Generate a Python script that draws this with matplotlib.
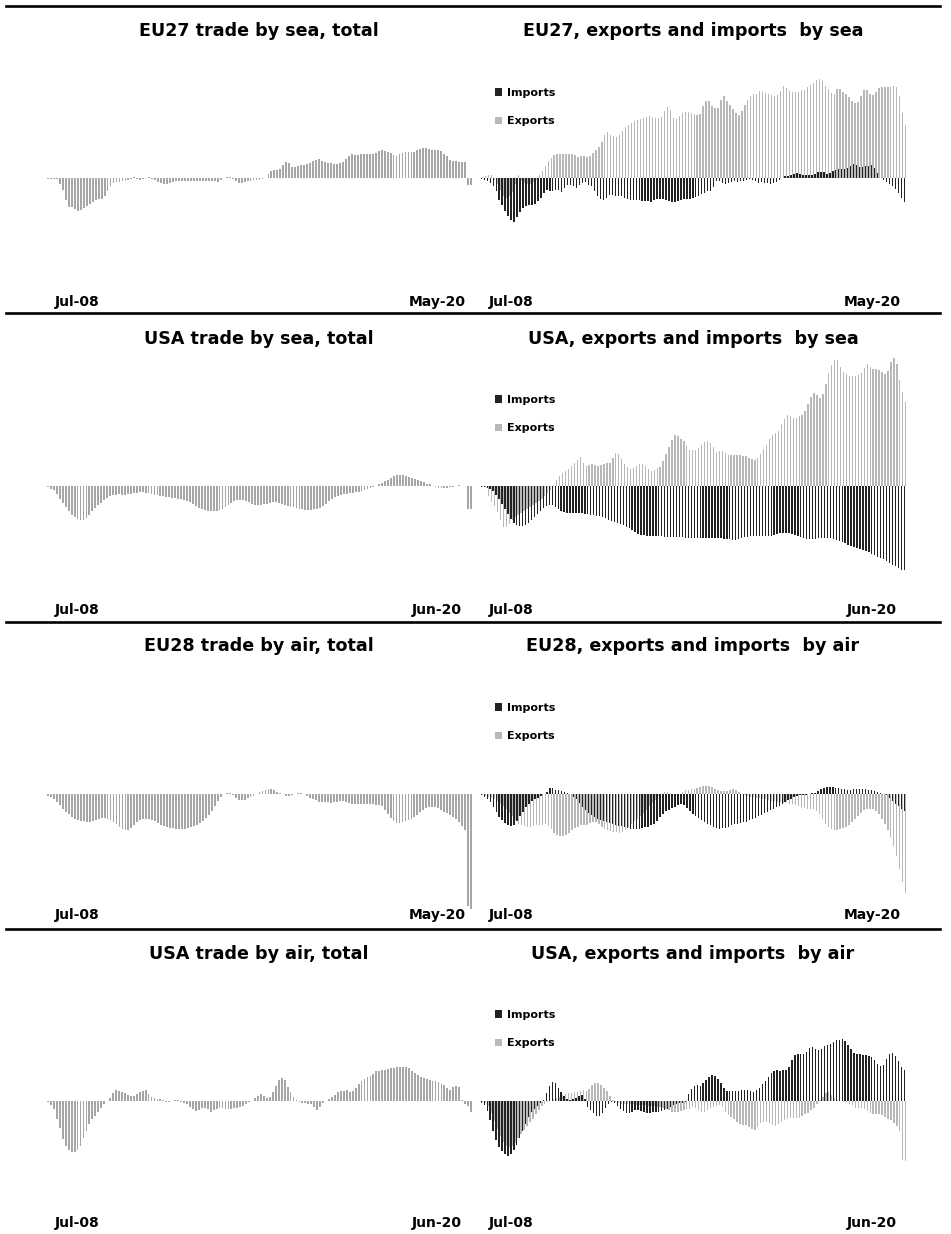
import matplotlib
matplotlib.use("Agg")
import matplotlib.pyplot as plt
from matplotlib.lines import Line2D
import numpy as np
import pandas as pd

# ---------------- categories ----------------
months_may20 = pd.period_range("2008-07", "2020-05", freq="M")   # 143 months
months_jun20 = pd.period_range("2008-07", "2020-06", freq="M")   # 144 months

# ---------------- data (relative change, arbitrary units) ----------------
eu27_sea_total = [
    -0.5, -0.5, -0.5, -1, -6, -12, -22, -29, -29, -31,
    -33, -32, -30, -28, -26, -24, -22, -21, -21, -18,
    -13, -8, -5, -4, -4, -3, -3, -2, -1, 1,
    -1, -2, -1, 0, 1, -1, -2, -4, -5, -6,
    -6, -5, -4, -3, -3, -3, -3, -3, -3, -3,
    -3, -3, -3, -3, -3, -3, -3, -4, -2, 0,
    1, 1, -1, -3, -5, -5, -4, -3, -3, -2,
    -2, -2, -1, 0, 4, 7, 8, 8, 9, 13,
    16, 15, 11, 11, 12, 13, 13, 14, 15, 17,
    18, 19, 17, 16, 15, 15, 14, 14, 15, 16,
    19, 22, 24, 23, 23, 24, 24, 24, 24, 24,
    25, 27, 28, 27, 26, 25, 23, 22, 24, 25,
    26, 26, 26, 26, 28, 29, 30, 30, 29, 28,
    28, 28, 27, 24, 22, 18, 17, 17, 16, 16,
    16, -7, -7]

eu27_sea_exports = [
    1, 2, 3, 3, -2, -6, -12, -18, -20, -18,
    -14, -6, 3, -3, -5, -6, -6, -4, -2, 3,
    7, 12, 17, 20, 23, 24, 24, 24, 24, 24,
    24, 23, 21, 22, 22, 21, 22, 25, 28, 31,
    36, 43, 46, 43, 42, 41, 43, 47, 51, 53,
    55, 57, 58, 59, 60, 61, 62, 61, 60, 60,
    61, 67, 71, 68, 60, 59, 62, 65, 66, 66,
    65, 64, 63, 64, 72, 77, 77, 72, 70, 70,
    78, 82, 77, 73, 69, 65, 63, 67, 73, 78,
    82, 84, 84, 87, 86, 85, 84, 83, 82, 83,
    87, 92, 90, 87, 86, 86, 86, 88, 88, 91,
    93, 95, 98, 99, 97, 92, 89, 85, 84, 89,
    89, 86, 84, 81, 77, 75, 76, 82, 88, 88,
    84, 83, 86, 90, 91, 91, 91, 91, 92, 91,
    82, 65, 53]

eu27_sea_imports = [
    -1, -2, -3, -5, -8, -13, -22, -27, -33, -38,
    -42, -44, -39, -34, -30, -28, -27, -27, -26, -23,
    -20, -15, -12, -13, -13, -12, -12, -14, -10, -7,
    -7, -8, -10, -7, -5, -4, -7, -8, -13, -18,
    -21, -22, -20, -17, -17, -18, -18, -18, -20, -21,
    -22, -22, -22, -22, -23, -23, -23, -24, -22, -21,
    -21, -21, -22, -23, -24, -24, -23, -22, -21, -21,
    -21, -20, -19, -18, -16, -15, -13, -13, -9, -3,
    -3, -5, -6, -5, -4, -3, -4, -3, -3, -2,
    -1, -2, -3, -5, -4, -5, -5, -6, -5, -4,
    -2, 0, 2, 2, 3, 4, 5, 4, 3, 3,
    3, 3, 4, 6, 6, 6, 4, 5, 7, 8,
    9, 9, 9, 10, 12, 14, 13, 11, 11, 12,
    12, 13, 10, 5, 0, -2, -4, -6, -8, -11,
    -15, -20, -24]

usa_sea_total = [
    -1, -3, -4, -8, -13, -17, -21, -25, -29, -31,
    -33, -34, -34, -32, -29, -25, -22, -19, -17, -14,
    -12, -10, -9, -9, -8, -9, -9, -8, -8, -7,
    -7, -6, -6, -7, -7, -8, -9, -9, -10, -10,
    -11, -11, -12, -12, -13, -13, -14, -15, -16, -18,
    -20, -22, -23, -24, -25, -25, -25, -25, -24, -23,
    -21, -19, -17, -15, -14, -14, -14, -15, -16, -18,
    -19, -19, -19, -18, -18, -17, -16, -16, -17, -18,
    -19, -20, -21, -21, -22, -23, -23, -24, -24, -24,
    -23, -23, -22, -20, -18, -15, -13, -11, -10, -9,
    -8, -8, -7, -7, -6, -6, -5, -4, -3, -2,
    -1, 0, 2, 3, 5, 6, 8, 10, 11, 11,
    11, 10, 9, 8, 7, 6, 5, 4, 2, 2,
    0, -1, -2, -2, -2, -2, -1, -0.5, 0.5, 1,
    0.5, 0.5, -23, -23]

usa_sea_exports = [
    -1, -2, -10, -16, -20, -26, -34, -41, -41, -38,
    -34, -31, -29, -27, -25, -23, -21, -19, -17, -15,
    -13, -10, -7, -4, 1, 6, 10, 13, 15, 17,
    20, 23, 26, 29, 23, 20, 21, 22, 21, 20,
    21, 22, 23, 23, 28, 33, 32, 27, 22, 19,
    17, 18, 20, 22, 22, 20, 17, 15, 16, 18,
    19, 25, 32, 39, 46, 51, 50, 47, 45, 40,
    36, 36, 36, 38, 41, 44, 45, 43, 39, 34,
    35, 35, 33, 31, 31, 31, 31, 31, 30, 30,
    28, 27, 26, 28, 32, 37, 41, 47, 51, 53,
    55, 62, 67, 71, 70, 68, 68, 70, 71, 75,
    82, 89, 93, 91, 88, 92, 102, 113, 121, 126,
    126, 119, 114, 112, 110, 110, 110, 111, 113, 118,
    122, 119, 117, 117, 116, 114, 112, 115, 124, 128,
    122, 106, 94, 84]

usa_sea_imports = [
    -1, -1, -2, -3, -5, -9, -13, -18, -23, -28,
    -33, -37, -39, -40, -40, -39, -37, -34, -31, -28,
    -25, -22, -20, -19, -19, -21, -23, -25, -26, -27,
    -27, -27, -27, -27, -27, -28, -28, -29, -29, -30,
    -30, -31, -32, -34, -35, -36, -37, -38, -39, -41,
    -42, -44, -46, -48, -49, -49, -50, -50, -50, -50,
    -50, -50, -51, -51, -51, -51, -51, -51, -51, -52,
    -52, -52, -52, -52, -52, -52, -52, -52, -52, -52,
    -52, -52, -53, -53, -53, -54, -54, -53, -52, -51,
    -51, -50, -50, -50, -50, -50, -50, -50, -50, -49,
    -48, -47, -47, -47, -47, -48, -49, -50, -51, -52,
    -53, -53, -53, -53, -52, -52, -52, -52, -52, -53,
    -54, -55, -56, -57, -59, -60, -61, -62, -63, -64,
    -65, -66, -68, -69, -71, -72, -73, -75, -77, -79,
    -80, -82, -84, -84]

eu28_air_total = [
    -2, -3, -5, -8, -11, -15, -18, -20, -23, -25,
    -26, -27, -27, -28, -28, -27, -26, -25, -24, -24,
    -25, -26, -28, -30, -33, -35, -36, -36, -34, -31,
    -28, -26, -25, -25, -25, -26, -27, -29, -31, -32,
    -33, -34, -34, -35, -35, -35, -35, -34, -33, -32,
    -31, -29, -27, -24, -21, -17, -12, -7, -3, 0,
    1, 1, -1, -4, -6, -6, -6, -4, -3, -2,
    0, 2, 3, 4, 5, 5, 4, 2, 1, 0,
    -2, -2, -1, 0, 1, 1, 0, -2, -4, -5,
    -6, -8, -8, -8, -8, -9, -8, -8, -7, -7,
    -8, -9, -10, -10, -10, -10, -10, -10, -10, -10,
    -11, -11, -12, -16, -20, -24, -27, -29, -29, -28,
    -27, -26, -25, -23, -21, -18, -16, -14, -13, -13,
    -13, -14, -16, -18, -19, -21, -23, -25, -28, -32,
    -36, -112, -115]

eu28_air_imports = [
    -1, -3, -5, -8, -13, -18, -23, -26, -29, -31,
    -32, -31, -27, -22, -18, -13, -10, -7, -5, -4,
    -2, 0, 2, 6, 6, 4, 4, 3, 2, 1,
    0, -3, -5, -9, -13, -16, -19, -21, -23, -25,
    -26, -27, -28, -29, -30, -31, -32, -32, -33, -34,
    -35, -35, -35, -35, -34, -33, -33, -31, -30, -27,
    -23, -20, -17, -16, -14, -13, -11, -10, -11, -14,
    -17, -20, -22, -24, -26, -28, -30, -31, -33, -34,
    -35, -34, -34, -33, -31, -30, -30, -29, -28, -28,
    -26, -25, -24, -22, -21, -19, -18, -16, -15, -13,
    -12, -10, -8, -6, -5, -3, -2, -1, -1, -1,
    0, 1, 1, 3, 5, 6, 7, 7, 7, 6,
    6, 5, 5, 4, 4, 5, 5, 5, 5, 5,
    4, 4, 3, 2, 1, 0, -1, -4, -7, -10,
    -12, -15, -17]

eu28_air_exports = [
    -1, -2, -3, -4, -5, -7, -10, -12, -15, -19,
    -22, -26, -30, -31, -32, -33, -33, -32, -31, -31,
    -31, -30, -32, -35, -39, -41, -42, -42, -41, -39,
    -36, -34, -33, -31, -31, -31, -29, -28, -28, -30,
    -33, -35, -36, -37, -38, -38, -39, -38, -36, -33,
    -30, -27, -25, -22, -19, -16, -12, -9, -6, -2,
    1, 2, 2, 1, 0, -1, 0, 2, 4, 4,
    5, 5, 6, 7, 8, 8, 8, 7, 5, 4,
    3, 3, 3, 4, 5, 4, 2, 0, -1, -2,
    -3, -3, -4, -4, -5, -5, -6, -7, -7, -8,
    -8, -9, -9, -10, -10, -11, -12, -13, -14, -15,
    -15, -15, -17, -20, -25, -30, -33, -35, -36, -36,
    -35, -34, -33, -31, -28, -25, -22, -19, -16, -15,
    -15, -15, -17, -20, -25, -30, -36, -43, -52, -62,
    -75, -88, -99]

usa_air_total = [
    -1, -4, -8, -18, -27, -38, -45, -49, -51, -51,
    -49, -45, -37, -30, -23, -18, -15, -11, -7, -3,
    0, 3, 8, 11, 10, 9, 8, 6, 5, 5,
    7, 9, 10, 11, 7, 4, 3, 2, 2, 1,
    -1, -1, 0, 1, 1, -1, -2, -3, -6, -8,
    -10, -9, -7, -7, -8, -11, -9, -8, -7, -7,
    -8, -8, -8, -7, -7, -6, -5, -3, -1, 0,
    3, 5, 7, 5, 3, 4, 9, 15, 21, 23,
    21, 14, 9, 4, 1, -1, -2, -2, -3, -3,
    -6, -9, -6, -2, 0, 2, 4, 6, 9, 10,
    10, 11, 9, 10, 13, 17, 20, 22, 24, 25,
    27, 30, 30, 31, 31, 32, 33, 33, 34, 34,
    34, 34, 33, 30, 28, 26, 24, 23, 22, 21,
    20, 20, 19, 17, 16, 13, 11, 14, 15, 14,
    1, -3, -5, -11]

usa_air_imports = [
    -2, -4, -10, -19, -30, -39, -46, -50, -53, -55,
    -53, -49, -44, -37, -30, -23, -16, -11, -8, -5,
    -2, 1, 8, 15, 19, 18, 13, 9, 5, 2,
    1, 2, 3, 5, 6, 2, -6, -9, -12, -15,
    -15, -12, -7, -3, -1, -2, -5, -8, -10, -12,
    -12, -11, -9, -9, -10, -11, -12, -12, -11, -11,
    -11, -10, -9, -8, -6, -4, -3, -2, -2, -1,
    7, 12, 15, 16, 15, 18, 21, 24, 26, 25,
    22, 18, 13, 10, 10, 10, 10, 10, 11, 11,
    11, 10, 9, 11, 13, 17, 20, 24, 28, 30,
    31, 30, 31, 31, 34, 41, 46, 47, 47, 47,
    49, 53, 54, 52, 51, 52, 55, 56, 57, 59,
    61, 61, 62, 60, 56, 52, 48, 47, 47, 46,
    46, 45, 44, 41, 37, 35, 36, 42, 47, 48,
    45, 40, 34, 31]

usa_air_exports = [
    -1, -2, -5, -12, -20, -28, -35, -41, -45, -46,
    -45, -42, -37, -33, -29, -25, -21, -18, -13, -9,
    -5, -3, -1, 0, 2, 3, 4, 6, 7, 8,
    8, 9, 9, 10, 11, 10, 12, 16, 18, 18,
    16, 13, 10, 5, 1, -1, -2, -3, -3, -3,
    -3, -3, -4, -4, -4, -4, -5, -5, -5, -6,
    -6, -7, -8, -9, -11, -11, -11, -10, -9, -8,
    -8, -6, -7, -9, -11, -11, -9, -7, -6, -5,
    -4, -6, -11, -14, -16, -18, -21, -23, -24, -24,
    -26, -28, -29, -26, -22, -21, -21, -22, -24, -25,
    -23, -21, -19, -18, -17, -17, -17, -17, -15, -13,
    -12, -9, -7, -3, 1, 4, 8, 9, 6, 3,
    1, 0, -1, -1, -3, -4, -7, -7, -7, -8,
    -10, -12, -13, -13, -13, -14, -16, -18, -19, -22,
    -25, -30, -59, -60]

titles_left = ["EU27 trade by sea, total", "USA trade by sea, total",
               "EU28 trade by air, total", "USA trade by air, total"]
titles_right = ["EU27, exports and imports  by sea", "USA, exports and imports  by sea",
                "EU28, exports and imports  by air", "USA, exports and imports  by air"]
legend_labels = ["Imports", "Exports"]

# ---------------- styling / layout ----------------
W, H = 951, 1234
GRAY_TOTAL = "#A6A6A6"
DARK = "#222222"
LIGHT = "#B8B8B8"
YL = 130

fig = plt.figure(figsize=(W / 100, H / 100), dpi=100)
fig.patch.set_facecolor("white")

def fx(x):
    return x / W

def fy(y):
    return 1 - y / H

def make_ax(x0, x1, zero, n):
    ax = fig.add_axes([fx(x0), fy(zero + YL), (x1 - x0) / W, 2 * YL / H])
    ax.set_ylim(-YL, YL)
    ax.set_xlim(-0.5, n - 0.5)
    ax.axis("off")
    return ax

rows = [
    dict(zero=178, title_y=31, lab_y=302, leg_y=93,
         total=eu27_sea_total, exp=eu27_sea_exports, imp=eu27_sea_imports,
         months_l=months_may20, months_r=months_may20),
    dict(zero=486, title_y=339, lab_y=610, leg_y=400,
         total=usa_sea_total, exp=usa_sea_exports, imp=usa_sea_imports,
         months_l=months_jun20, months_r=months_jun20),
    dict(zero=794, title_y=646, lab_y=915, leg_y=708,
         total=eu28_air_total, exp=eu28_air_exports, imp=eu28_air_imports,
         months_l=months_may20, months_r=months_may20),
    dict(zero=1101, title_y=954, lab_y=1223, leg_y=1015,
         total=usa_air_total, exp=usa_air_exports, imp=usa_air_imports,
         months_l=months_jun20, months_r=months_jun20),
]

for k, r in enumerate(rows):
    # left: total
    n = len(r["months_l"])
    axl = make_ax(46.5, 472.5, r["zero"], n)
    x = np.arange(n)
    axl.bar(x, r["total"], width=0.62, color=GRAY_TOTAL, linewidth=0)
    fig.text(fx(259), fy(r["title_y"]), titles_left[k], ha="center", va="center",
             fontsize=12.6, fontweight="bold")
    fig.text(fx(77), fy(r["lab_y"]), r["months_l"][0].strftime("%b-%y"),
             ha="center", va="center", fontsize=10, fontweight="bold")
    fig.text(fx(437), fy(r["lab_y"]), r["months_l"][-1].strftime("%b-%y"),
             ha="center", va="center", fontsize=10, fontweight="bold")

    # right: exports and imports
    n = len(r["months_r"])
    axr = make_ax(480.5, 906.5, r["zero"], n)
    x = np.arange(n)
    b_imp = axr.bar(x - 0.23, r["imp"], width=0.46, color=DARK, linewidth=0)
    b_exp = axr.bar(x + 0.23, r["exp"], width=0.46, color=LIGHT, linewidth=0)
    fig.text(fx(693), fy(r["title_y"]), titles_right[k], ha="center", va="center",
             fontsize=12.6, fontweight="bold")
    fig.text(fx(511), fy(r["lab_y"]), r["months_r"][0].strftime("%b-%y"),
             ha="center", va="center", fontsize=10, fontweight="bold")
    fig.text(fx(872), fy(r["lab_y"]), r["months_r"][-1].strftime("%b-%y"),
             ha="center", va="center", fontsize=10, fontweight="bold")
    axr.legend([b_imp, b_exp], legend_labels, loc="upper left",
               bbox_to_anchor=(fx(495), fy(r["leg_y"] - 5)),
               bbox_transform=fig.transFigure, frameon=False,
               prop={"weight": "bold", "size": 8},
               handlelength=0.65, handleheight=0.65, handletextpad=0.45,
               labelspacing=1.65, borderaxespad=0, borderpad=0)

# separator lines between rows
for yy in [6, 313.5, 622, 929]:
    fig.add_artist(Line2D([fx(6), fx(940)], [fy(yy), fy(yy)], color="black",
                          lw=1.9, transform=fig.transFigure))

fig.savefig("out.png", dpi=100, facecolor="white")
